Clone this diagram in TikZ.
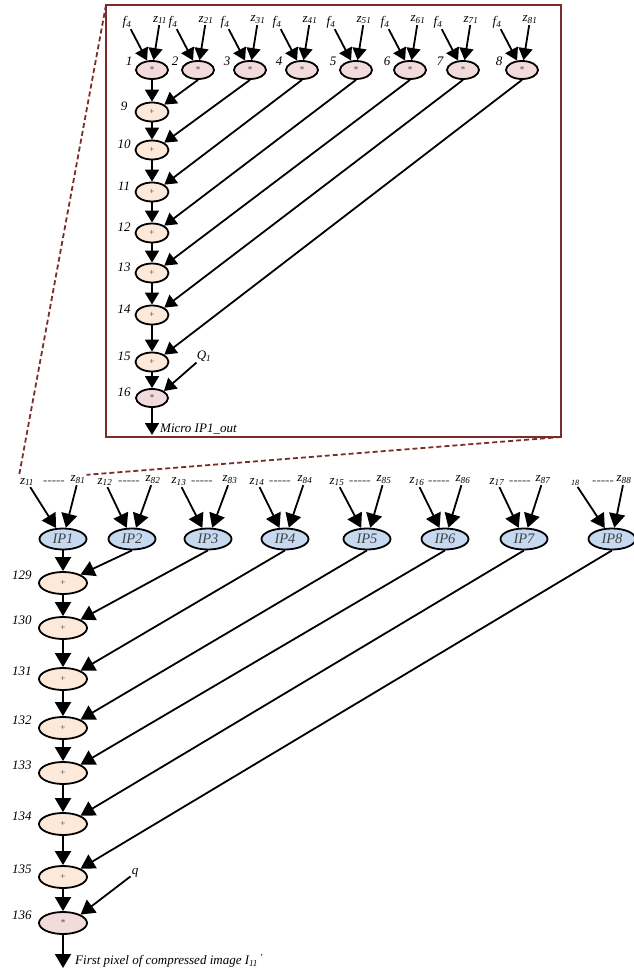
\documentclass[tikz,border=0pt]{standalone}
\usepackage{fontspec}
\setmainfont{Liberation Serif}
\usetikzlibrary{arrows.meta,shapes.geometric}
\definecolor{mulpink}{HTML}{F2DCDB}
\definecolor{addpeach}{HTML}{FDE9D9}
\definecolor{ipblue}{HTML}{C6D9F1}
\definecolor{boxred}{HTML}{7B2D2D}
\newcommand{\varsub}[2]{\textit{#1}\textsubscript{\textit{#2}}}
\newcommand{\gapdash}{\raisebox{-1.5pt}{-{}-{}-{}-{}-}}
\tikzset{
  mul/.style={draw,ellipse,line width=1.8pt,fill=mulpink,minimum width=32pt,minimum height=18pt,inner sep=0pt,font=\small,text=darkgray},
  add/.style={draw,ellipse,line width=1.8pt,fill=addpeach,minimum width=33pt,minimum height=19pt,inner sep=0pt,font=\small,text=darkgray},
  bigadd/.style={add,minimum width=48pt,minimum height=22pt},
  bigmul/.style={mul,minimum width=48pt,minimum height=22pt},
  ip/.style={draw,ellipse,line width=1.8pt,fill=ipblue,minimum width=47pt,minimum height=21pt,inner sep=0pt,font=\fontsize{14.5}{16}\selectfont\itshape,text=darkgray},
  lbl/.style={inner sep=1pt,font=\fontsize{13}{15}\selectfont\itshape},
  arr/.style={line width=1.8pt,-{Triangle[width=14pt,length=12pt]}},
  bigarr/.style={line width=1.8pt,-{Triangle[width=16pt,length=14pt]}},
  frame/.style={draw=boxred,line width=1.6pt},
  zoomline/.style={draw=boxred,line width=1.8pt,dash pattern=on 5pt off 3pt}
}
\begin{document}
\begin{tikzpicture}[x=1pt,y=-1pt]
\useasboundingbox (0,0) rectangle (634,974);
% micro unit
\coordinate (boxtl) at (106,5);
\coordinate (boxbr) at (561,437);
\draw[frame] (boxtl) rectangle (boxbr);
\foreach \i/\x in {1/152,2/198,3/250,4/302,5/356,6/410,7/463,8/522}{
  \node[mul] (m\i) at (\x,70) {*};
  \node[lbl] (n\i) at (\x-23,61) {\i};
  \node[lbl] (f\i) at (\x-25,22) {\varsub{f}{4}};
  \node[lbl] (z\i) at (\x+8,20) {\varsub{z}{\i1}};
  \draw[arr] (f\i) -- (m\i);
  \draw[arr] (z\i) -- (m\i);
}
\foreach \j/\y in {9/112,10/150,11/192,12/233,13/273,14/315,15/362}{
  \node[add] (a\j) at (152,\y) {+};
  \node[lbl] (na\j) at (124,\y-6) {\j};
}
\node[mul] (a16) at (152,398) {*};
\node[lbl] (na16) at (124,392) {16};
\draw[arr] (m1) -- (a9);
\foreach \j in {9,...,15}{
  \pgfmathtruncatemacro\nxt{\j+1}
  \draw[arr] (a\j) -- (a\nxt);
}
\foreach \k in {2,...,8}{
  \pgfmathtruncatemacro\j{\k+7}
  \draw[arr] (m\k.south) -- (a\j.north east);
}
\node[lbl] (q1) at (204,356) {\varsub{Q}{1}};
\draw[arr] (q1) -- (a16.north east);
\coordinate (mout) at (152,435);
\draw[arr] (a16) -- (mout);
\node[lbl,anchor=west] (moutl) at (159,429) {Micro IP1\_out};
% processing elements
\foreach \k/\x/\l/\d/\r in {1/63/27/54/78,2/132/105/129/153,3/208/179/202/230,4/285/257/280/305,5/367/337/360/384,6/445/417/439/463,7/524/497/520/543}{
  \node[ip] (ip\k) at (\x,539) {IP\k};
  \node[lbl] (zl\k) at (\l,482) {\varsub{z}{1\k}};
  \node[lbl,text=darkgray] (d\k) at (\d,483) {\gapdash};
  \node[lbl] (zr\k) at (\r,480) {\varsub{z}{8\k}};
  \draw[bigarr] (zl\k) -- (ip\k);
  \draw[bigarr] (zr\k) -- (ip\k);
}
\node[ip] (ip8) at (612,539) {IP8};
\node[lbl,font=\footnotesize\itshape] (zl8) at (575,483) {18};
\node[lbl,text=darkgray] (d8) at (603,483) {\gapdash};
\node[lbl] (zr8) at (624,480) {\varsub{z}{88}};
\draw[bigarr] (zl8) -- (ip8);
\draw[bigarr] (zr8) -- (ip8);
\foreach \j/\y in {129/583,130/628,131/679,132/728,133/773,134/824,135/877}{
  \node[bigadd] (b\j) at (63,\y) {+};
  \node[lbl] (nb\j) at (22,\y-8) {\j};
}
\node[bigmul] (b136) at (63,923) {*};
\node[lbl] (nb136) at (22,915) {136};
\draw[bigarr] (ip1) -- (b129);
\foreach \j in {129,...,135}{
  \pgfmathtruncatemacro\nxt{\j+1}
  \draw[bigarr] (b\j) -- (b\nxt);
}
\foreach \k in {2,...,8}{
  \pgfmathtruncatemacro\j{\k+127}
  \draw[bigarr] (ip\k.south) -- (b\j.north east);
}
\node[lbl] (q) at (135,873) {q};
\draw[bigarr] (q) -- (b136.north east);
\coordinate (fout) at (63,968);
\draw[bigarr] (b136) -- (fout);
\node[lbl,anchor=west] (foutl) at (74,961) {First pixel of compressed image \varsub{I}{11}\textsuperscript{\,'}};
% zoom lines
\draw[zoomline] (boxtl) -- (zl1.north west);
\draw[zoomline] (boxbr) -- (zr1.north east);
\end{tikzpicture}
\end{document}
